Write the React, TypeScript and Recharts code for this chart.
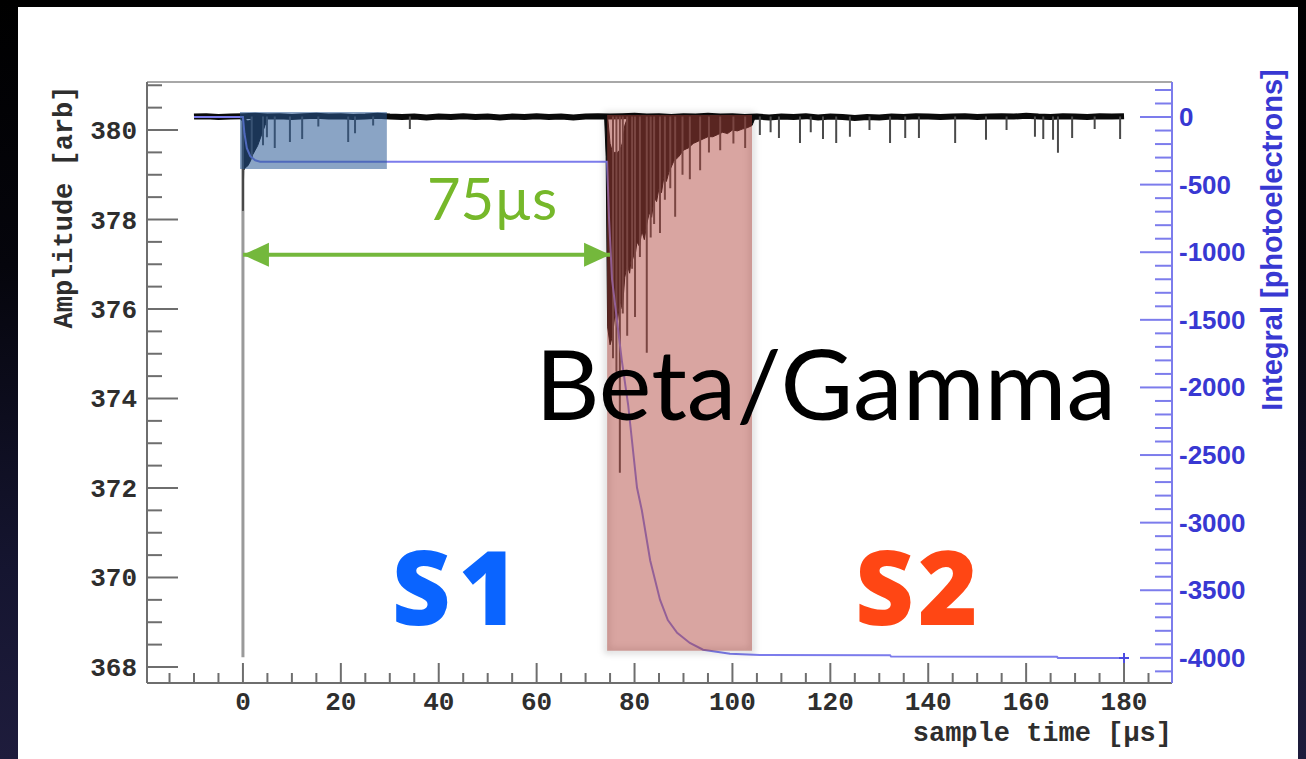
import React from 'react';
import {
  ComposedChart,
  Line,
  Area,
  XAxis,
  YAxis,
  ReferenceArea,
  ReferenceLine,
  ReferenceDot,
} from 'recharts';

// ---- axis ranges and ticks ----
const timeDomain: [number, number] = [-19.6, 189.8];
const ampDomain: [number, number] = [367.642, 381.073];
const peDomain: [number, number] = [-4186, 259];

const timeTicks = [-15, -10, -5, 0, 5, 10, 15, 20, 25, 30, 35, 40, 45, 50, 55, 60, 65, 70, 75, 80, 85, 90, 95, 100, 105, 110, 115, 120, 125, 130, 135, 140, 145, 150, 155, 160, 165, 170, 175, 180, 185];
const timeLabels = [0, 20, 40, 60, 80, 100, 120, 140, 160, 180];

const ampTicks = [368, 368.5, 369, 369.5, 370, 370.5, 371, 371.5, 372, 372.5, 373, 373.5, 374, 374.5, 375, 375.5, 376, 376.5, 377, 377.5, 378, 378.5, 379, 379.5, 380, 380.5, 381];
const ampLabels = [368, 370, 372, 374, 376, 378, 380];

const peTicks = [-4100, -4000, -3900, -3800, -3700, -3600, -3500, -3400, -3300, -3200, -3100, -3000, -2900, -2800, -2700, -2600, -2500, -2400, -2300, -2200, -2100, -2000, -1900, -1800, -1700, -1600, -1500, -1400, -1300, -1200, -1100, -1000, -900, -800, -700, -600, -500, -400, -300, -200, -100, 0, 100, 200];
const peLabels = [-4000, -3500, -3000, -2500, -2000, -1500, -1000, -500, 0];

// ---- waveform (amplitude, arb) ----
const baseLevel = 380.3;
const baselineSamples: [number, number][] = [
  [-10, 380.30], [-7.5, 380.31], [-5, 380.29], [-2.5, 380.30], [0, 380.31], [2.5, 380.32],
  [5, 380.30], [7.5, 380.31], [10, 380.29], [12.5, 380.31], [15, 380.32], [17.5, 380.30],
  [20, 380.31], [22.5, 380.29], [25, 380.30], [27.5, 380.32], [30, 380.30], [32.5, 380.29],
  [35, 380.30], [37.5, 380.28], [40, 380.30], [42.5, 380.29], [45, 380.31], [47.5, 380.29],
  [50, 380.30], [52.5, 380.28], [55, 380.30], [57.5, 380.29], [60, 380.31], [62.5, 380.29],
  [65, 380.30], [67.5, 380.28], [70, 380.30], [72.5, 380.31], [75, 380.30], [77.5, 380.31],
  [80, 380.32], [82.5, 380.30], [85, 380.31], [87.5, 380.29], [90, 380.31], [92.5, 380.30],
  [95, 380.32], [97.5, 380.30], [100, 380.31], [102.5, 380.29], [105, 380.30], [107.5, 380.28],
  [110, 380.30], [112.5, 380.29], [115, 380.31], [117.5, 380.28], [120, 380.30], [122.5, 380.29],
  [125, 380.27], [127.5, 380.29], [130, 380.28], [132.5, 380.30], [135, 380.29], [137.5, 380.31],
  [140, 380.30], [142.5, 380.29], [145, 380.30], [147.5, 380.31], [150, 380.29], [152.5, 380.30],
  [155, 380.31], [157.5, 380.30], [160, 380.32], [162.5, 380.30], [165, 380.29], [167.5, 380.31],
  [170, 380.30], [172.5, 380.29], [175, 380.31], [177.5, 380.30], [180, 380.31],
];

// min / max of the trace around the S1 pulse
const s1Envelope = [
  { t: -0.5, lo: 380.25, hi: 380.34 },
  { t: -0.1, lo: 380.2, hi: 380.34 },
  { t: 0.0, lo: 378.2, hi: 380.34 },
  { t: 0.15, lo: 379.1, hi: 380.3 },
  { t: 0.4, lo: 379.15, hi: 380.25 },
  { t: 1.0, lo: 379.2, hi: 380.2 },
  { t: 1.5, lo: 379.3, hi: 380.22 },
  { t: 2.0, lo: 379.45, hi: 380.26 },
  { t: 2.5, lo: 379.55, hi: 380.3 },
  { t: 3.0, lo: 379.65, hi: 380.3 },
  { t: 3.5, lo: 379.8, hi: 380.32 },
  { t: 4.0, lo: 379.95, hi: 380.33 },
  { t: 4.5, lo: 380.1, hi: 380.34 },
  { t: 5.0, lo: 380.24, hi: 380.34 },
];

// min / max of the trace around the S2 pulse
const s2Envelope = [
  { t: 73.9, lo: 380.26, hi: 380.34 },
  { t: 74.2, lo: 379.4, hi: 380.34 },
  { t: 74.5, lo: 375.6, hi: 380.3 },
  { t: 75.0, lo: 375.2, hi: 379.7 },
  { t: 75.5, lo: 375.4, hi: 379.5 },
  { t: 76.0, lo: 375.9, hi: 379.5 },
  { t: 76.5, lo: 375.7, hi: 379.5 },
  { t: 77.0, lo: 376.2, hi: 379.55 },
  { t: 77.5, lo: 376.0, hi: 379.7 },
  { t: 78.0, lo: 376.7, hi: 380.1 },
  { t: 78.5, lo: 377.0, hi: 380.25 },
  { t: 79.0, lo: 376.8, hi: 380.3 },
  { t: 79.5, lo: 377.3, hi: 380.3 },
  { t: 80.0, lo: 377.1, hi: 380.32 },
  { t: 80.5, lo: 377.5, hi: 380.3 },
  { t: 81.0, lo: 377.4, hi: 380.32 },
  { t: 81.5, lo: 377.75, hi: 380.3 },
  { t: 82.0, lo: 377.55, hi: 380.33 },
  { t: 82.5, lo: 377.9, hi: 380.3 },
  { t: 83.0, lo: 378.15, hi: 380.32 },
  { t: 83.5, lo: 378.05, hi: 380.3 },
  { t: 84.0, lo: 378.5, hi: 380.33 },
  { t: 84.5, lo: 378.4, hi: 380.3 },
  { t: 85.0, lo: 378.7, hi: 380.32 },
  { t: 85.5, lo: 378.6, hi: 380.3 },
  { t: 86.0, lo: 378.95, hi: 380.33 },
  { t: 86.5, lo: 378.85, hi: 380.3 },
  { t: 87.0, lo: 379.05, hi: 380.32 },
  { t: 88.0, lo: 379.3, hi: 380.3 },
  { t: 89.0, lo: 379.4, hi: 380.32 },
  { t: 90.0, lo: 379.55, hi: 380.3 },
  { t: 91.0, lo: 379.6, hi: 380.33 },
  { t: 92.0, lo: 379.7, hi: 380.3 },
  { t: 93.0, lo: 379.75, hi: 380.32 },
  { t: 94.0, lo: 379.8, hi: 380.3 },
  { t: 95.0, lo: 379.85, hi: 380.33 },
  { t: 96.0, lo: 379.85, hi: 380.3 },
  { t: 97.0, lo: 379.9, hi: 380.32 },
  { t: 98.0, lo: 379.95, hi: 380.3 },
  { t: 99.0, lo: 379.92, hi: 380.33 },
  { t: 100.0, lo: 380.0, hi: 380.3 },
  { t: 101.0, lo: 379.98, hi: 380.32 },
  { t: 102.0, lo: 380.02, hi: 380.3 },
  { t: 103.0, lo: 380.05, hi: 380.32 },
  { t: 104.0, lo: 380.1, hi: 380.33 },
  { t: 104.5, lo: 380.24, hi: 380.33 },
];

// single-sample downward spikes (time, minimum amplitude)
const s1Spikes = [
  { t: 0, lo: 378.2 }, { t: 1.8, lo: 379.35 }, { t: 4.1, lo: 379.66 }, { t: 4.9, lo: 379.84 },
  { t: 6.5, lo: 379.6 }, { t: 9.6, lo: 379.73 }, { t: 12.1, lo: 379.8 }, { t: 15.4, lo: 380.08 },
  { t: 21.5, lo: 379.73 }, { t: 22.9, lo: 379.93 }, { t: 26.6, lo: 380.1 }, { t: 34.1, lo: 380.02 },
];
const s2Spikes = [
  { t: 75.6, lo: 374.9 }, { t: 76.3, lo: 374.6 }, { t: 77.0, lo: 372.34 }, { t: 77.6, lo: 375.9 },
  { t: 78.5, lo: 375.4 }, { t: 79.5, lo: 376.9 }, { t: 80.1, lo: 375.82 }, { t: 81.1, lo: 377.16 },
  { t: 82.5, lo: 375.02 }, { t: 83.3, lo: 377.6 }, { t: 84.0, lo: 377.9 }, { t: 85.2, lo: 377.7 },
  { t: 86.2, lo: 378.44 }, { t: 87.3, lo: 378.7 }, { t: 88.3, lo: 378.06 }, { t: 89.8, lo: 379.0 },
  { t: 91.3, lo: 378.9 }, { t: 93.4, lo: 379.1 }, { t: 95.2, lo: 379.5 }, { t: 97.5, lo: 379.55 },
  { t: 100.2, lo: 379.7 }, { t: 102.6, lo: 379.6 },
];
const tailSpikes = [
  { t: 105.6, lo: 379.89 }, { t: 107.8, lo: 379.95 }, { t: 109.5, lo: 379.82 }, { t: 113.8, lo: 379.71 },
  { t: 116.0, lo: 379.95 }, { t: 118.5, lo: 379.8 }, { t: 121.2, lo: 379.71 }, { t: 124.0, lo: 379.85 },
  { t: 128.0, lo: 380.0 }, { t: 132.2, lo: 379.71 }, { t: 135.3, lo: 379.82 }, { t: 138.1, lo: 379.82 },
  { t: 145.5, lo: 379.71 }, { t: 151.8, lo: 379.78 }, { t: 156.0, lo: 380.0 }, { t: 161.8, lo: 379.85 },
  { t: 163.5, lo: 379.8 }, { t: 165.5, lo: 379.78 }, { t: 166.5, lo: 379.49 }, { t: 169.4, lo: 379.82 },
  { t: 174.0, lo: 380.02 }, { t: 179.2, lo: 379.8 },
];

// ---- running integral (photoelectrons) ----
const integral = [
  { t: -10, pe: 0 }, { t: 0, pe: 0 }, { t: 0.3, pe: -120 }, { t: 0.8, pe: -230 },
  { t: 1.5, pe: -290 }, { t: 2.5, pe: -320 }, { t: 3.5, pe: -330 }, { t: 74.4, pe: -330 },
  { t: 74.8, pe: -760 }, { t: 75.4, pe: -1200 }, { t: 76.4, pe: -1500 }, { t: 77.4, pe: -1800 },
  { t: 78.7, pe: -2130 }, { t: 80.5, pe: -2740 }, { t: 81.5, pe: -2910 }, { t: 83.2, pe: -3280 },
  { t: 85.2, pe: -3570 }, { t: 86.8, pe: -3720 }, { t: 88.7, pe: -3815 }, { t: 91.3, pe: -3890 },
  { t: 94.0, pe: -3940 }, { t: 99.5, pe: -3970 }, { t: 105.6, pe: -3979 }, { t: 132.2, pe: -3980 },
  { t: 132.4, pe: -3990 }, { t: 166.3, pe: -3992 }, { t: 166.5, pe: -4001 }, { t: 180, pe: -4001 },
];

// ---- annotations ----
const triggerTime = 0;
const triggerBottom = 368.22;
const s1Window = { from: -0.6, to: 29.4, low: 379.13, high: 380.4 };
const s2Window = { from: 74.4, to: 104.0, low: 368.36, high: 380.335 };
const driftArrow = [{ t: 0, v: 377.21 }, { t: 75, v: 377.21 }];
const driftLabel = { t: 37.6, v: 377.99, text: '75µs' };
const classLabel = { t: 59.7, v: 373.52, text: 'Beta/Gamma' };
const s1Label = { t: 30.4, v: 368.94, text: 'S1' };
const s2Label = { t: 125.05, v: 368.94, text: 'S2' };

// derived series
const baseline = baselineSamples.map(([t, v]) => ({ t, v }));
const spikeSegments = [...s1Spikes, ...s2Spikes, ...tailSpikes].flatMap((s) => [
  { t: s.t, v: baseLevel },
  { t: s.t, v: s.lo },
  { t: s.t, v: null },
]);

const MONO = '"Liberation Mono", "Courier New", monospace';
const SANS = '"Liberation Sans", Arial, sans-serif';
const AXIS_GREY = '#6e6e6e';
const LABEL_GREY = '#2e2e2e';
const PE_BLUE = '#3838d2';
const PE_LINE = '#7c7cec';

const TimeTick = (props: any) => {
  const { x, y, payload } = props;
  const major = timeLabels.includes(payload.value);
  return (
    <g>
      <line x1={x} x2={x} y1={y} y2={y - (major ? 20 : 10)} stroke={AXIS_GREY} strokeWidth={2} />
      {major && (
        <text x={x} y={y + 27} textAnchor="middle" fontFamily={MONO} fontWeight="bold" fontSize={26} fill={LABEL_GREY}>
          {payload.value}
        </text>
      )}
    </g>
  );
};

const AmpTick = (props: any) => {
  const { x, y, payload } = props;
  const major = ampLabels.includes(payload.value);
  return (
    <g>
      <line x1={x} x2={x + (major ? 31 : 15)} y1={y} y2={y} stroke={AXIS_GREY} strokeWidth={2} />
      {major && (
        <text x={x - 10} y={y + 9} textAnchor="end" fontFamily={MONO} fontWeight="bold" fontSize={26} fill={LABEL_GREY}>
          {payload.value}
        </text>
      )}
    </g>
  );
};

const PeTick = (props: any) => {
  const { x, y, payload } = props;
  const major = peLabels.includes(payload.value);
  return (
    <g>
      <line x1={x - (major ? 32 : 17)} x2={x} y1={y} y2={y} stroke={PE_LINE} strokeWidth={2} />
      {major && (
        <text x={x + 7} y={y + 9} textAnchor="start" fontFamily={SANS} fontWeight="bold" fontSize={26} fill={PE_BLUE}>
          {payload.value}
        </text>
      )}
    </g>
  );
};

const AmpTitle = (props: any) => {
  const vb = props.viewBox || { x: 0, y: 82 };
  const cx = vb.x + 65;
  const cy = vb.y + 125;
  return (
    <text x={cx} y={cy} transform={`rotate(-90 ${cx} ${cy})`} textAnchor="middle" dominantBaseline="central"
      fontFamily={MONO} fontWeight="bold" fontSize={27} fill={LABEL_GREY}>
      Amplitude [arb]
    </text>
  );
};

const PeTitle = (props: any) => {
  const vb = props.viewBox || { x: 1172, y: 82 };
  const cx = vb.x + 100;
  const cy = vb.y + 158;
  return (
    <text x={cx} y={cy} transform={`rotate(-90 ${cx} ${cy})`} textAnchor="middle" dominantBaseline="central"
      fontFamily={SANS} fontWeight="bold" fontSize={29} fill={PE_BLUE}>
      Integral [photoelectrons]
    </text>
  );
};

const TimeTitle = (props: any) => {
  const vb = props.viewBox || { x: 147, y: 683, width: 1025 };
  return (
    <text x={vb.x + vb.width} y={vb.y + 58} textAnchor="end" fontFamily={MONO} fontWeight="bold" fontSize={27} fill={LABEL_GREY}>
      sample time [µs]
    </text>
  );
};

const arrowDot = (props: any) => {
  const { cx, cy, index } = props;
  const dir = index === 0 ? 1 : -1;
  const len = 26;
  const half = 12;
  return (
    <polygon
      key={`arrow-${index}`}
      points={`${cx},${cy} ${cx + dir * len},${cy - half} ${cx + dir * len},${cy + half}`}
      fill="#74b83c"
    />
  );
};

const endMarker = (props: any) => {
  const { cx, cy, index } = props;
  if (index !== integral.length - 1) return <g key={`m-${index}`} />;
  return (
    <g key={`m-${index}`} stroke="#4a4ae0" strokeWidth={2}>
      <line x1={cx - 5} x2={cx + 5} y1={cy} y2={cy} />
      <line x1={cx} x2={cx} y1={cy - 5} y2={cy + 5} />
    </g>
  );
};

// soft outline drawn around the S2 window
const haloShape = (props: any) => (
  <g>
    <defs>
      <filter id="s2halo" x="-20%" y="-5%" width="140%" height="110%">
        <feGaussianBlur stdDeviation="3" />
      </filter>
    </defs>
    <rect x={props.x} y={props.y} width={props.width} height={props.height}
      fill="none" stroke="#000000" strokeOpacity={0.14} strokeWidth={6} filter="url(#s2halo)" />
  </g>
);

const textShape = (text: string, style: any) => (props: any) => (
  <text x={props.cx} y={props.cy} {...style}>
    {text}
  </text>
);

export default function App() {
  return (
    <div
      style={{
        position: 'fixed',
        left: 0,
        top: 0,
        width: 1306,
        height: 759,
        overflow: 'hidden',
        background: 'linear-gradient(to bottom, #000000 0%, #05050c 35%, #151530 75%, #1e1c3c 100%)',
      }}
    >
      <div style={{ position: 'absolute', left: 18, top: 7, width: 1280, height: 752, background: '#ffffff' }} />
      <div style={{ position: 'absolute', left: 0, top: 0 }}>
        <ComposedChart width={1306} height={759} margin={{ top: 82, right: 0, bottom: 0, left: 0 }}>
          <XAxis
            type="number"
            dataKey="t"
            xAxisId="time"
            domain={timeDomain}
            allowDataOverflow
            ticks={timeTicks}
            interval={0}
            tickSize={0}
            tickMargin={0}
            tickLine={false}
            tick={<TimeTick />}
            axisLine={{ stroke: AXIS_GREY, strokeWidth: 2 }}
            height={76}
            label={<TimeTitle />}
          />
          <YAxis
            yAxisId="amp"
            orientation="left"
            type="number"
            domain={ampDomain}
            allowDataOverflow
            ticks={ampTicks}
            interval={0}
            tickSize={0}
            tickMargin={0}
            tickLine={false}
            tick={<AmpTick />}
            axisLine={{ stroke: AXIS_GREY, strokeWidth: 2 }}
            width={147}
            label={<AmpTitle />}
          />
          <YAxis
            yAxisId="pe"
            orientation="right"
            type="number"
            domain={peDomain}
            allowDataOverflow
            ticks={peTicks}
            interval={0}
            tickSize={0}
            tickMargin={0}
            tickLine={false}
            tick={<PeTick />}
            axisLine={{ stroke: PE_LINE, strokeWidth: 2 }}
            width={134}
            label={<PeTitle />}
          />

          {/* top frame */}
          <ReferenceLine xAxisId="time" yAxisId="amp" y={ampDomain[1]} stroke="#a8a8a8" strokeWidth={2} zIndex={350} />

          {/* trigger marker */}
          <ReferenceLine
            xAxisId="time"
            yAxisId="amp"
            segment={[{ x: triggerTime, y: baseLevel }, { x: triggerTime, y: triggerBottom }]}
            stroke="#9a9a9a"
            strokeWidth={3}
            zIndex={360}
          />

          {/* waveform */}
          <Line
            xAxisId="time" yAxisId="amp" data={baseline} dataKey="v" type="linear"
            stroke="#0a0a0a" strokeWidth={6} dot={false} activeDot={false} isAnimationActive={false} zIndex={400}
          />
          <Area
            xAxisId="time" yAxisId="amp" data={s1Envelope} dataKey={(d: any) => [d.lo, d.hi]} type="linear"
            stroke="#0a0a0a" strokeWidth={1} fill="#0a0a0a" fillOpacity={1} dot={false} activeDot={false}
            isAnimationActive={false} zIndex={410}
          />
          <Area
            xAxisId="time" yAxisId="amp" data={s2Envelope} dataKey={(d: any) => [d.lo, d.hi]} type="linear"
            stroke="#0a0a0a" strokeWidth={1} fill="#0a0a0a" fillOpacity={1} dot={false} activeDot={false}
            isAnimationActive={false} zIndex={410}
          />
          <Line
            xAxisId="time" yAxisId="amp" data={spikeSegments} dataKey="v" type="linear" connectNulls={false}
            stroke="#4a4a4a" strokeWidth={2} dot={false} activeDot={false} isAnimationActive={false} zIndex={420}
          />

          {/* integral */}
          <Line
            xAxisId="time" yAxisId="pe" data={integral} dataKey="pe" type="linear"
            stroke={PE_LINE} strokeWidth={2} dot={endMarker} activeDot={false} isAnimationActive={false} zIndex={430}
          />

          {/* integration windows */}
          <ReferenceArea
            xAxisId="time" yAxisId="amp"
            x1={s2Window.from} x2={s2Window.to} y1={s2Window.low} y2={s2Window.high}
            shape={haloShape} zIndex={440}
          />
          <ReferenceArea
            xAxisId="time" yAxisId="amp"
            x1={s1Window.from} x2={s1Window.to} y1={s1Window.low} y2={s1Window.high}
            fill="#2a5a96" fillOpacity={0.55} stroke="none" zIndex={450}
          />
          <ReferenceArea
            xAxisId="time" yAxisId="amp"
            x1={s2Window.from} x2={s2Window.to} y1={s2Window.low} y2={s2Window.high}
            fill="#b0433a" fillOpacity={0.48} stroke="none" zIndex={450}
          />

          {/* drift time arrow */}
          <Line
            xAxisId="time" yAxisId="amp" data={driftArrow} dataKey="v" type="linear"
            stroke="#74b83c" strokeWidth={4} dot={arrowDot} activeDot={false} isAnimationActive={false} zIndex={1500}
          />

          <ReferenceDot
            xAxisId="time" yAxisId="amp" x={driftLabel.t} y={driftLabel.v} zIndex={2100}
            shape={textShape(driftLabel.text, { fontFamily: 'Lato, sans-serif', fontSize: 58, fill: '#76b82a', textAnchor: 'start' })}
          />
          <ReferenceDot
            xAxisId="time" yAxisId="amp" x={classLabel.t} y={classLabel.v} zIndex={2100}
            shape={textShape(classLabel.text, { fontFamily: 'Lato, sans-serif', fontSize: 96, fill: '#000000', textAnchor: 'start', textLength: 581, lengthAdjust: 'spacingAndGlyphs' })}
          />
          <ReferenceDot
            xAxisId="time" yAxisId="amp" x={s1Label.t} y={s1Label.v} zIndex={2100}
            shape={textShape(s1Label.text, { fontFamily: '"Open Sans", sans-serif', fontWeight: 800, fontSize: 102, fill: '#0a64ff', textAnchor: 'start', letterSpacing: 8 })}
          />
          <ReferenceDot
            xAxisId="time" yAxisId="amp" x={s2Label.t} y={s2Label.v} zIndex={2100}
            shape={textShape(s2Label.text, { fontFamily: '"Open Sans", sans-serif', fontWeight: 800, fontSize: 102, fill: '#ff4614', textAnchor: 'start', letterSpacing: 4 })}
          />
        </ComposedChart>
      </div>
    </div>
  );
}
